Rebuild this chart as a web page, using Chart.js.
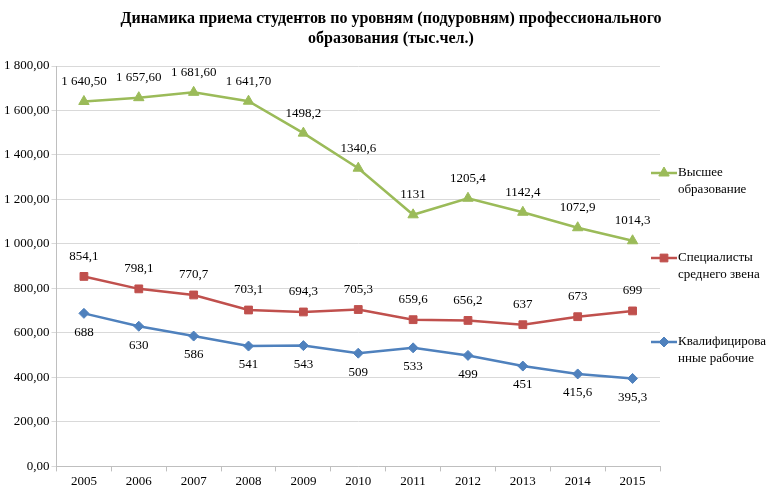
<!DOCTYPE html>
<html>
<head>
<meta charset="utf-8">
<script src="https://cdn.jsdelivr.net/npm/chart.js@4"></script>
<style>
  html, body { margin: 0; padding: 0; background: #fff; }
  #wrap { width: 777px; height: 491px; }
</style>
</head>
<body>
<div id="wrap"><canvas id="chartCanvas"></canvas></div>
<script>
const years = ['2005', '2006', '2007', '2008', '2009', '2010', '2011', '2012', '2013', '2014', '2015'];

const higherEdu = [1640.5, 1657.6, 1681.6, 1641.7, 1498.2, 1340.6, 1131, 1205.4, 1142.4, 1072.9, 1014.3];
const higherEduLabels = ['1 640,50', '1 657,60', '1 681,60', '1 641,70', '1498,2', '1340,6', '1131', '1205,4', '1142,4', '1072,9', '1014,3'];

const midSpecialists = [854.1, 798.1, 770.7, 703.1, 694.3, 705.3, 659.6, 656.2, 637, 673, 699];
const midSpecialistsLabels = ['854,1', '798,1', '770,7', '703,1', '694,3', '705,3', '659,6', '656,2', '637', '673', '699'];

const workers = [688, 630, 586, 541, 543, 509, 533, 499, 451, 415.6, 395.3];
const workersLabels = ['688', '630', '586', '541', '543', '509', '533', '499', '451', '415,6', '395,3'];

const legendNames = [['Высшее', 'образование'], ['Специалисты', 'среднего звена'], ['Квалифицирова', 'нные рабочие']];
const titleLines = ['Динамика приема студентов по уровням (подуровням) профессионального', 'образования (тыс.чел.)'];

const FONT = "'Liberation Serif', 'Times New Roman', serif";

// заголовок по центру всего холста
const titlePlugin = {
  id: 'centerTitle',
  afterDraw(chart) {
    const ctx = chart.ctx;
    ctx.save();
    ctx.font = 'bold 16px ' + FONT;
    ctx.fillStyle = '#000';
    ctx.textAlign = 'center';
    ctx.textBaseline = 'middle';
    titleLines.forEach((line, k) => ctx.fillText(line, 391, 19 + k * 20));
    ctx.restore();
  },
};

// подписи значений над/под точками
const valueLabelsPlugin = {
  id: 'valueLabels',
  afterDatasetsDraw(chart) {
    const ctx = chart.ctx;
    ctx.save();
    ctx.font = '13px ' + FONT;
    ctx.fillStyle = '#000';
    ctx.textAlign = 'center';
    ctx.textBaseline = 'middle';
    chart.data.datasets.forEach((ds, i) => {
      const meta = chart.getDatasetMeta(i);
      meta.data.forEach((pt, j) => {
        const dy = ds.labelBelow ? 19 : -20;
        ctx.fillText(ds.valueLabels[j], pt.x, pt.y + dy);
      });
    });
    ctx.restore();
  },
};

// легенда справа, в две строки
const sideLegendPlugin = {
  id: 'sideLegend',
  afterDraw(chart) {
    const ctx = chart.ctx;
    const tops = [173, 258, 342];
    ctx.save();
    chart.data.datasets.forEach((ds, i) => {
      const y = tops[i];
      ctx.strokeStyle = ds.borderColor;
      ctx.lineWidth = 2.5;
      ctx.beginPath();
      ctx.moveTo(651, y);
      ctx.lineTo(677, y);
      ctx.stroke();
      ctx.fillStyle = ds.backgroundColor;
      ctx.lineWidth = 1;
      Chart.helpers.drawPoint(ctx, { pointStyle: ds.pointStyle, radius: ds.pointRadius, rotation: 0, borderWidth: 1 }, 664, y);
      ctx.fillStyle = '#000';
      ctx.font = '13px ' + FONT;
      ctx.textBaseline = 'middle';
      ctx.textAlign = 'left';
      legendNames[i].forEach((line, k) => ctx.fillText(line, 678, y + k * 17));
    });
    ctx.restore();
  },
};

function makeSet(label, data, labels, color, style, radius, below) {
  return {
    label: label,
    data: data,
    valueLabels: labels,
    labelBelow: below,
    borderColor: color,
    backgroundColor: color,
    borderWidth: 2.5,
    pointStyle: style,
    pointRadius: radius,
    pointBorderWidth: 1,
    tension: 0,
    fill: false,
  };
}

new Chart(document.getElementById('chartCanvas').getContext('2d'), {
  type: 'line',
  data: {
    labels: years,
    datasets: [
      makeSet(legendNames[0].join(' '), higherEdu, higherEduLabels, '#9bbb59', 'triangle', 6, false),
      makeSet(legendNames[1].join(' '), midSpecialists, midSpecialistsLabels, '#c0504d', 'rect', 5.5, false),
      makeSet(legendNames[2].join(' '), workers, workersLabels, '#4f81bd', 'rectRot', 5, true),
    ],
  },
  options: {
    responsive: true,
    maintainAspectRatio: false,
    animation: false,
    layout: { padding: { left: 2, right: 117, top: 66, bottom: 0 } },
    plugins: {
      legend: { display: false },
      tooltip: { enabled: false },
      title: { display: false },
    },
    scales: {
      x: {
        offset: true,
        grid: { display: true, drawOnChartArea: false, drawTicks: true, tickLength: 5, offset: true, color: '#bfbfbf' },
        border: { color: '#bfbfbf' },
        ticks: { font: { family: FONT, size: 13 }, color: '#000', padding: 2 },
      },
      y: {
        min: 0,
        max: 1800,
        grid: { color: '#d9d9d9', drawTicks: true, tickLength: 5 },
        border: { color: '#bfbfbf' },
        ticks: {
          stepSize: 200,
          font: { family: FONT, size: 13 },
          color: '#000',
          padding: 2,
          callback: (v) => {
            const s = v.toFixed(2).replace('.', ',');
            const [ip, fp] = s.split(',');
            return ip.replace(/\B(?=(\d{3})+(?!\d))/g, ' ') + ',' + fp;
          },
        },
      },
    },
  },
  plugins: [titlePlugin, valueLabelsPlugin, sideLegendPlugin],
});
</script>
</body>
</html>
